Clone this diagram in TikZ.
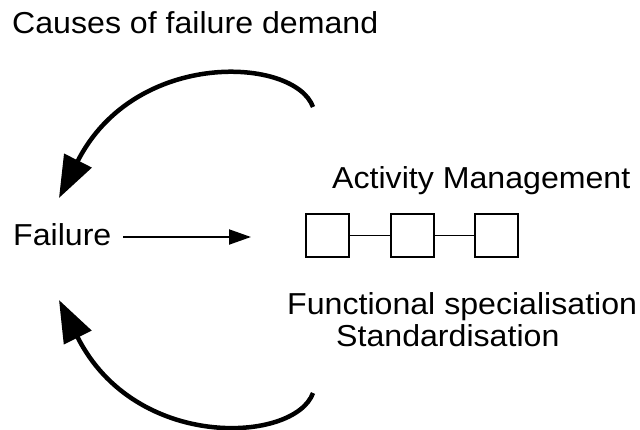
\documentclass[tikz,border=0pt]{standalone}
\usepackage{fontspec}
\setmainfont{Liberation Sans}[FakeStretch=1.06]
\usetikzlibrary{arrows.meta}
\begin{document}
\begin{tikzpicture}[x=1pt,y=-1pt,
    label/.style={anchor=base west,inner sep=0pt,font=\fontsize{30.3}{36}\selectfont},
    stage/.style={draw,line width=1.4pt,minimum size=43pt,inner sep=0pt},
    link/.style={line width=1.4pt},
    flow/.style={line width=2pt,-{Triangle[length=22pt,width=15pt]}},
    loop/.style={line width=4.5pt,-{Triangle[length=42pt,width=30pt]}}]
  \useasboundingbox (0,0) rectangle (640,429);

  % texts
  \node[label] (title) at (12,33) {Causes of failure demand};
  \node[label] (fail) at (13,245) {Failure};
  \node[label] (act) at (332,188) {Activity Management};
  \node[label] (func) at (287,314) {Functional specialisation};
  \node[label] (std) at (336,346) {Standardisation};

  % activity chain
  \node[stage] (b1) at (327.5,235.5) {};
  \node[stage] (b2) at (412.5,235.5) {};
  \node[stage] (b3) at (496.5,235.5) {};
  \draw[link] (b1.east) -- (b2.west);
  \draw[link] (b2.east) -- (b3.west);

  % failure feeds the chain
  \coordinate (fs) at (123,237);
  \coordinate (fe) at (251,237);
  \draw[flow] (fs) -- (fe);

  % feedback loops back to failure
  \coordinate (ts) at (313,107);
  \coordinate (tt) at (59,198);
  \draw[loop] (ts) .. controls (295,57) and (135,48) .. (tt);
  \coordinate (bs) at (313,393);
  \coordinate (bt) at (59,300);
  \draw[loop] (bs) .. controls (295,443) and (135,452) .. (bt);
\end{tikzpicture}
\end{document}
